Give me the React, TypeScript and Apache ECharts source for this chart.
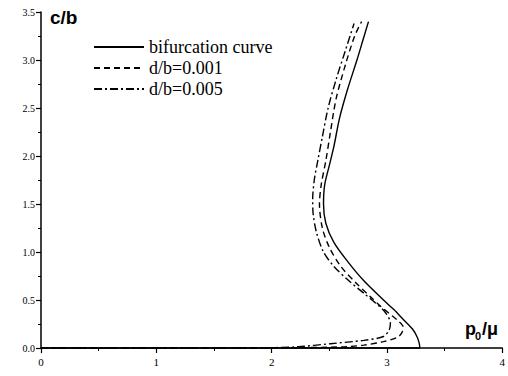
import React, { useEffect, useRef } from "react";
import * as echarts from "echarts";

const names = ["bifurcation curve", "d/b=0.001", "d/b=0.005"];

const xTicks = [0, 1, 2, 3, 4];
const yTicks = [0, 0.5, 1.0, 1.5, 2.0, 2.5, 3.0, 3.5];

const solidX = [0, 1.0, 2.0, 3.285, 3.28, 3.26, 3.22, 3.14, 3.06, 2.97, 2.8, 2.66, 2.54, 2.47, 2.45, 2.46, 2.5, 2.54, 2.59, 2.66, 2.74, 2.79, 2.84];
const solidY = [0, 0, 0, 0, 0.05, 0.12, 0.2, 0.3, 0.4, 0.5, 0.7, 0.9, 1.1, 1.3, 1.5, 1.7, 1.9, 2.1, 2.4, 2.7, 3.0, 3.2, 3.4];

const dashX = [0, 1.6, 2.2, 2.5, 2.66, 2.8, 2.97, 3.09, 3.13, 3.14, 3.1, 3.05, 2.95, 2.86, 2.73, 2.6, 2.5, 2.44, 2.415, 2.43, 2.47, 2.51, 2.56, 2.64, 2.72, 2.78];
const dashY = [0, 0, 0.003, 0.008, 0.014, 0.03, 0.066, 0.11, 0.16, 0.22, 0.28, 0.33, 0.43, 0.53, 0.68, 0.85, 1.05, 1.25, 1.5, 1.7, 1.95, 2.25, 2.6, 2.95, 3.25, 3.4];

const dotX = [0, 1.4, 1.94, 2.23, 2.51, 2.8, 2.97, 3.02, 3.03, 2.98, 2.9, 2.8, 2.67, 2.54, 2.45, 2.39, 2.36, 2.356, 2.37, 2.4, 2.44, 2.49, 2.56, 2.64, 2.715];
const dotY = [0, 0, 0.002, 0.013, 0.045, 0.08, 0.12, 0.19, 0.26, 0.38, 0.47, 0.57, 0.7, 0.85, 1.0, 1.2, 1.4, 1.55, 1.75, 1.95, 2.2, 2.5, 2.8, 3.1, 3.38];

const pairs = (xs: number[], ys: number[]) => xs.map((x, i) => [x, ys[i]]);

export default function App() {
  const ref = useRef<HTMLDivElement>(null);
  useEffect(() => {
    if (!ref.current) return;
    const chart = echarts.init(ref.current, null, { renderer: "svg" });
    const serif = "Liberation Serif";
    const sans = "Liberation Sans";
    const mkSeries = (name: string, data: number[][], type: any) => ({
      name,
      type: "line",
      data,
      symbol: "none",
      showSymbol: false,
      smooth: 0.3,
      clip: false,
      lineStyle: { color: "#000", width: 1.4, type },
      itemStyle: { color: "#000" },
    });
    chart.setOption({
      animation: false,
      backgroundColor: "#fff",
      grid: { left: 41, right: 2, top: 12, bottom: 28 },
      legend: {
        data: names,
        orient: "vertical",
        left: 88,
        top: 33,
        itemWidth: 50,
        itemHeight: 14,
        itemGap: 3,
        itemStyle: { opacity: 0 },
        textStyle: { fontFamily: serif, fontSize: 18, color: "#000" },
      },
      xAxis: {
        type: "value",
        min: xTicks[0],
        max: xTicks[xTicks.length - 1],
        interval: 1,
        axisLine: { lineStyle: { color: "#000", width: 1.5 } },
        axisTick: { show: true, inside: false, length: 5, lineStyle: { color: "#000", width: 1.2 } },
        minorTick: { show: true, splitNumber: 2, length: 3, lineStyle: { color: "#000" } },
        splitLine: { show: false },
        axisLabel: { fontFamily: serif, fontSize: 11, color: "#000", margin: 8 },
      },
      yAxis: {
        type: "value",
        min: yTicks[0],
        max: yTicks[yTicks.length - 1],
        interval: 0.5,
        axisLine: { show: true, lineStyle: { color: "#000", width: 1.5 } },
        axisTick: { show: true, inside: false, length: 5, lineStyle: { color: "#000", width: 1.2 } },
        minorTick: { show: true, splitNumber: 2, length: 3, lineStyle: { color: "#000" } },
        splitLine: { show: false },
        axisLabel: {
          fontFamily: serif,
          fontSize: 10,
          color: "#000",
          margin: 6,
          formatter: (v: number) => v.toFixed(1),
        },
      },
      graphic: [
        {
          type: "text",
          left: 50,
          top: 8,
          style: { text: "c/b", font: `bold 19px ${sans}`, fill: "#000" },
        },
        {
          type: "text",
          x: 465,
          y: 320,
          style: { text: "p", font: `bold 18px ${sans}`, fill: "#000" },
        },
        {
          type: "text",
          x: 475,
          y: 330,
          style: { text: "0", font: `bold 11px ${sans}`, fill: "#000" },
        },
        {
          type: "text",
          x: 482,
          y: 320,
          style: { text: "/μ", font: `bold 18px ${sans}`, fill: "#000" },
        },
      ],
      series: [
        mkSeries(names[0], pairs(solidX, solidY), "solid"),
        mkSeries(names[1], pairs(dashX, dashY), [6, 4]),
        mkSeries(names[2], pairs(dotX, dotY), [8, 3, 2, 3]),
      ],
    });
    return () => chart.dispose();
  }, []);
  return (
    <div
      ref={ref}
      style={{ position: "fixed", left: 0, top: 0, width: 508, height: 376, background: "#fff" }}
    />
  );
}
